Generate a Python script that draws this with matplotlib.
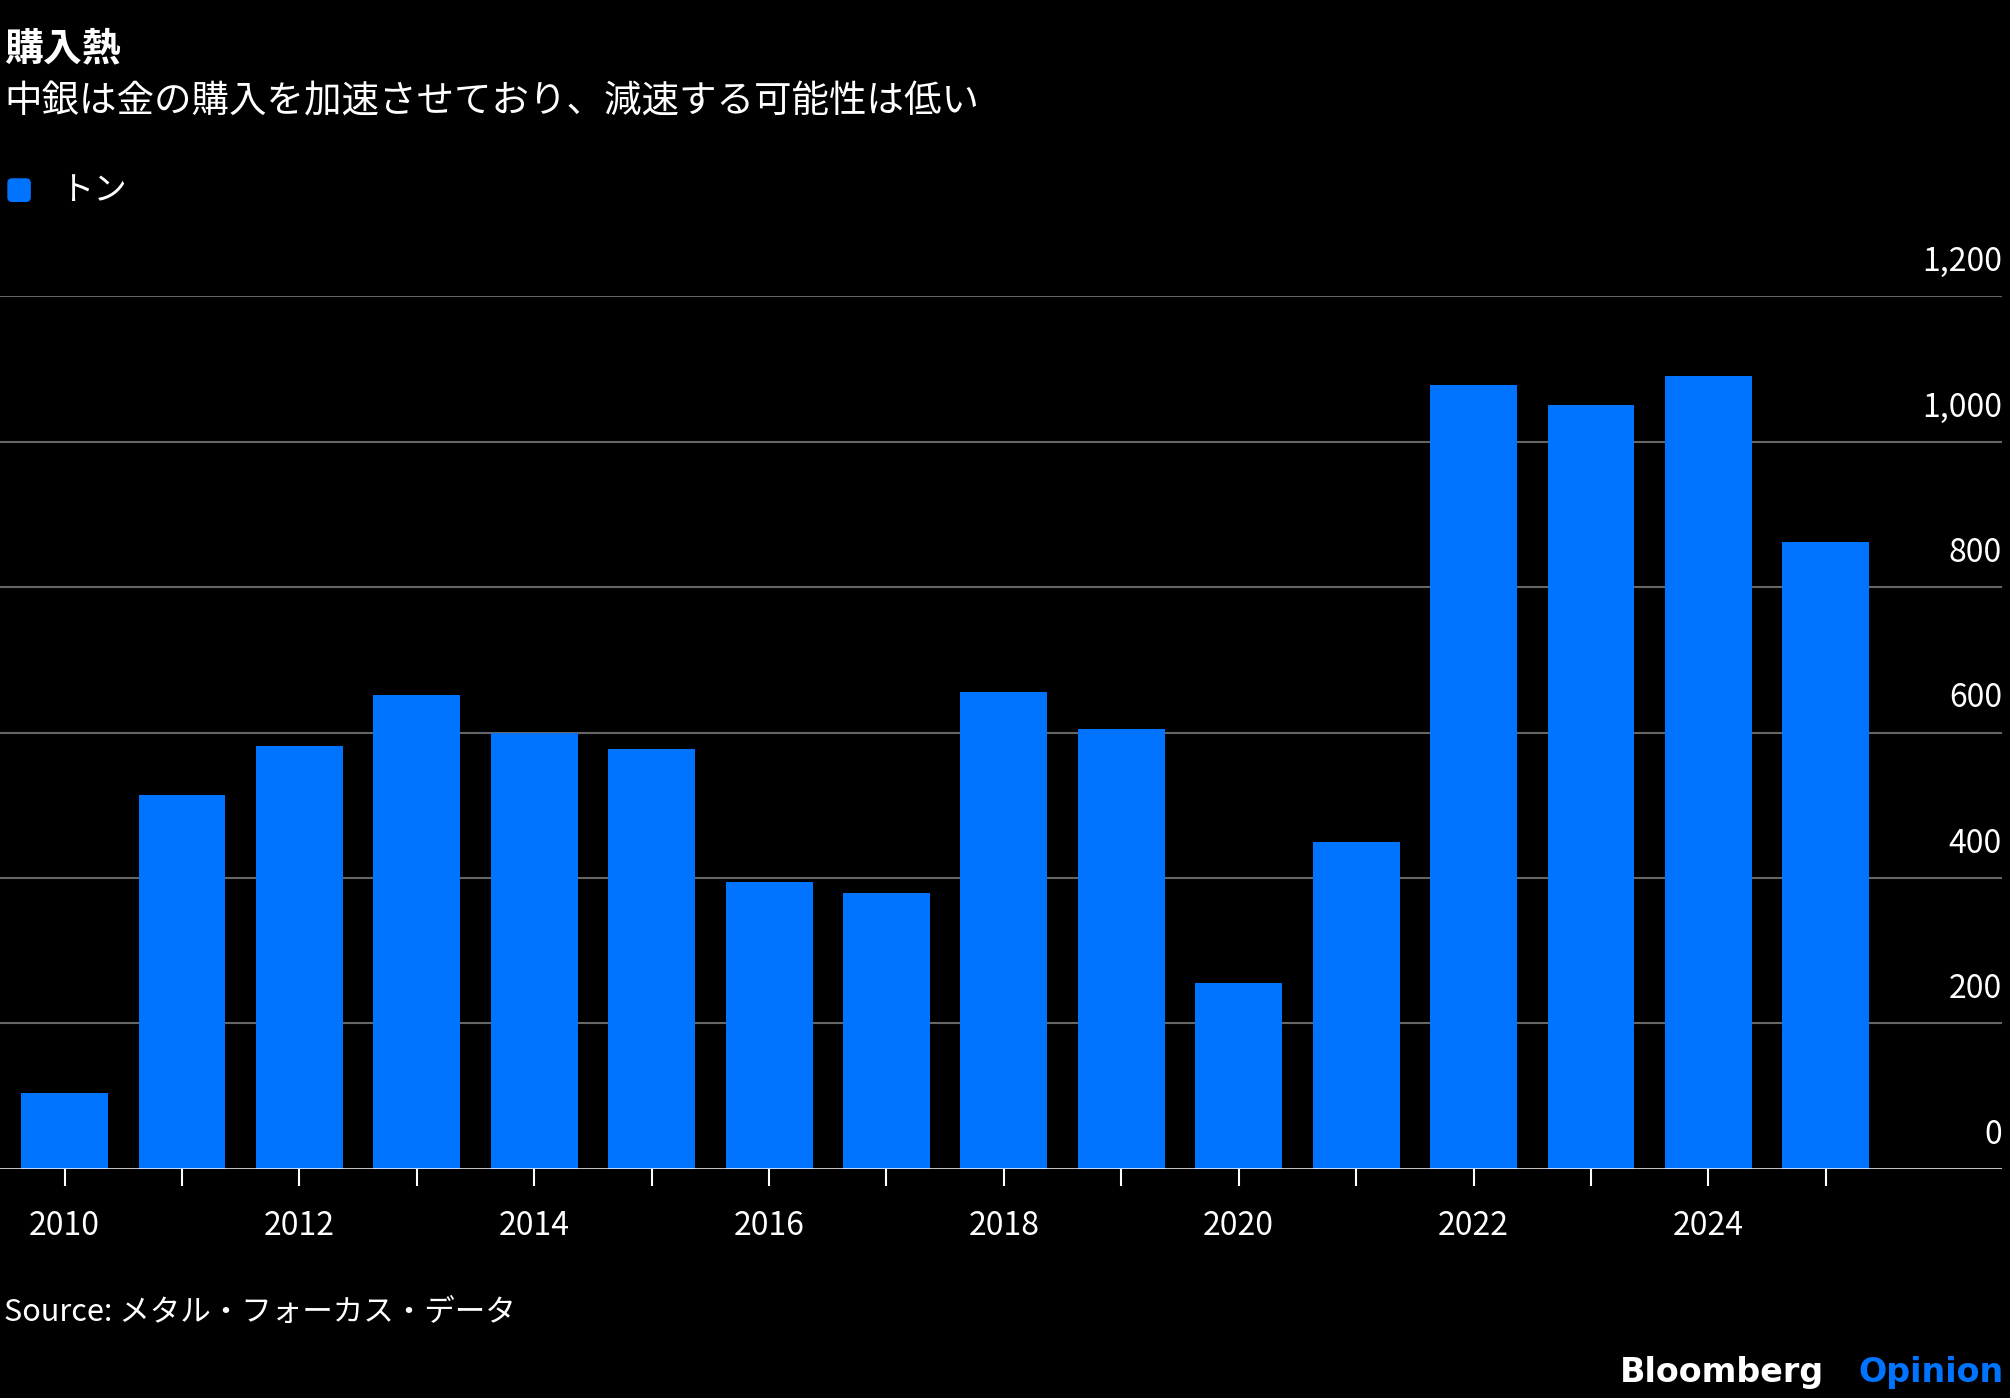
import matplotlib.pyplot as plt
from matplotlib.patches import FancyBboxPatch

plt.rcParams['font.family'] = ['Noto Sans CJK JP', 'DejaVu Sans']

years = list(range(2010, 2026))
tonnes = [104, 514, 581, 652, 599, 578, 395, 379, 656, 605, 255, 449, 1078, 1050, 1091, 862]
yticks = [0, 200, 400, 600, 800, 1000, 1200]

blue = '#0073ff'
fig = plt.figure(figsize=(20.1, 13.98), dpi=100, facecolor='black')
ax = fig.add_axes([0, 0.164, 0.996, 0.624], facecolor='black')

ax.bar(years, tonnes, width=0.74, color=blue, zorder=3)
ax.set_xlim(2009.45, 2026.5)
ax.set_ylim(0, 1200)

for v in yticks:
    if v > 0:
        ax.axhline(v, color='#666666', lw=1.5, zorder=1)
    ax.text(1, v + 25, f'{v:,}', transform=ax.get_yaxis_transform(), ha='right', va='bottom',
            color='white', fontsize=23)
ax.axhline(0, color='white', lw=1.8, zorder=4)

ax.set_yticks([])
ax.set_xticks(years)
ax.set_xticklabels([str(y) if y % 2 == 0 else '' for y in years], color='white', fontsize=23)
ax.tick_params(axis='x', colors='white', length=12, width=1.5, pad=18, labelcolor='white')
for s in ax.spines.values():
    s.set_visible(False)

fig.text(0.002, 0.965, '購入熱', color='white', fontsize=28, fontweight='bold', va='center')
fig.text(0.002, 0.927, '中銀は金の購入を加速させており、減速する可能性は低い', color='white', fontsize=27, va='center')
fig.patches.append(FancyBboxPatch((0.004, 0.856), 0.011, 0.016, boxstyle='round,pad=0,rounding_size=0.002',
                                  transform=fig.transFigure, color=blue, mutation_aspect=1.44))
fig.text(0.03, 0.864, 'トン', color='white', fontsize=24, va='center')
fig.text(0.002, 0.061, 'Source: メタル・フォーカス・データ', color='white', fontsize=22, va='center')
fig.text(0.806, 0.018, 'Bloomberg', color='white', fontsize=24, fontweight='bold', va='center',
         family='DejaVu Sans')
fig.text(0.997, 0.018, 'Opinion', color=blue, fontsize=24, fontweight='bold', va='center', ha='right',
         family='DejaVu Sans')

fig.savefig('out.png', facecolor='black')
